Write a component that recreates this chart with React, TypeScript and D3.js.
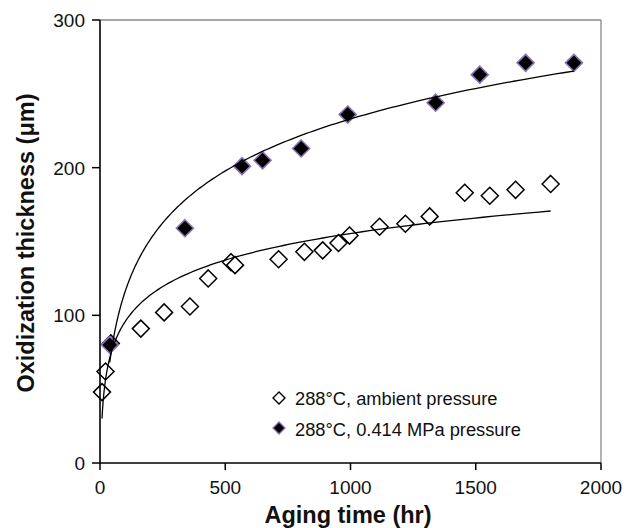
import React from "react";
import * as d3 from "d3";

// Ambient pressure series (open diamonds)
const ambientHours = [8, 22, 43, 163, 256, 359, 432, 523, 539, 713, 816, 889, 952, 996, 1116, 1219, 1316, 1456, 1556, 1659, 1799];
const ambientValues = [48, 62, 81, 91, 102, 106, 125, 136, 134, 138, 143, 144, 149, 154, 160, 162, 167, 183, 181, 185, 189];

// 0.414 MPa pressure series (filled diamonds)
const pressureHours = [39, 339, 567, 649, 803, 989, 1340, 1516, 1699, 1892];
const pressureValues = [80, 159, 201, 205, 213, 236, 244, 263, 271, 271];

const xTicks = [0, 500, 1000, 1500, 2000];
const yTicks = [0, 100, 200, 300];
const legendLabels = ["288°C, ambient pressure", "288°C, 0.414 MPa pressure"];

const W = 624, H = 528;
const M = { left: 100, right: 601, top: 20, bottom: 463 };
const FONT = "'Liberation Sans', Arial, Helvetica, sans-serif";

function logFit(xs: number[], ys: number[]) {
  const lx = xs.map(Math.log);
  const mx = d3.mean(lx)!, my = d3.mean(ys)!;
  let sxx = 0, sxy = 0;
  lx.forEach((v, i) => { sxx += (v - mx) ** 2; sxy += (v - mx) * (ys[i] - my); });
  const a = sxy / sxx, b = my - a * mx;
  return (x: number) => a * Math.log(x) + b;
}

function diamond(cx: number, cy: number, r: number) {
  return `M${cx},${cy - r}L${cx + r},${cy}L${cx},${cy + r}L${cx - r},${cy}Z`;
}

export default function App() {
  const x = d3.scaleLinear().domain([0, 2000]).range([M.left, M.right]);
  const y = d3.scaleLinear().domain([0, 300]).range([M.bottom, M.top]);

  const trend = (xs: number[], ys: number[]) => {
    const f = logFit(xs, ys);
    const lo = d3.min(xs)!, hi = d3.max(xs)!;
    const pts = d3.range(0, 201).map((i) => lo * Math.pow(hi / lo, i / 200));
    return d3.line<number>().x((t) => x(t)).y((t) => y(f(t)))(pts)!;
  };

  const ambient = ambientHours.map((h, i) => [h, ambientValues[i]]);
  const pressure = pressureHours.map((h, i) => [h, pressureValues[i]]);

  return (
    <svg width={W} height={H} style={{ position: "absolute", left: 0, top: 0, background: "#fff" }} fontFamily={FONT}>
      <rect x={0} y={0} width={W} height={H} fill="#fff" />
      {/* frame */}
      <line x1={M.left} x2={M.right} y1={M.top} y2={M.top} stroke="#888" strokeWidth={1.3} />
      <line x1={M.right} x2={M.right} y1={M.top} y2={M.bottom} stroke="#888" strokeWidth={1.3} />

      {/* markers */}
      {ambient.map(([h, v], i) => (
        <path key={"a" + i} d={diamond(x(h), y(v), 8.5)} fill="#fff" stroke="#000" strokeWidth={1.5} />
      ))}
      {pressure.map(([h, v], i) => (
        <path key={"p" + i} d={diamond(x(h), y(v), 8.5)} fill="#000" stroke="#8b72b5" strokeWidth={1.6} />
      ))}

      {/* trend lines */}
      <path d={trend(ambientHours, ambientValues)} fill="none" stroke="#000" strokeWidth={1.3} />
      <path d={trend(pressureHours, pressureValues)} fill="none" stroke="#000" strokeWidth={1.3} />

      {/* axes */}
      <line x1={M.left} x2={M.left} y1={M.top} y2={M.bottom} stroke="#000" strokeWidth={1.6} />
      <line x1={M.left} x2={M.right} y1={M.bottom} y2={M.bottom} stroke="#000" strokeWidth={1.6} />
      {yTicks.map((t) => (
        <g key={"y" + t}>
          <line x1={M.left - 8} x2={M.left} y1={y(t)} y2={y(t)} stroke="#000" strokeWidth={1.5} />
          <text x={85} y={y(t)} dy="0.36em" textAnchor="end" fontSize={19} fill="#111">{t}</text>
        </g>
      ))}
      {xTicks.map((t) => (
        <g key={"x" + t}>
          <line x1={x(t)} x2={x(t)} y1={M.bottom} y2={M.bottom + 7} stroke="#000" strokeWidth={1.5} />
          <text x={x(t)} y={494} textAnchor="middle" fontSize={19} fill="#111">{t}</text>
        </g>
      ))}

      {/* axis titles */}
      <text x={348} y={523} textAnchor="middle" fontSize={23.5} fontWeight="bold" fill="#111">Aging time (hr)</text>
      <text transform="translate(34,243) rotate(-90)" textAnchor="middle" fontSize={23.5} fontWeight="bold" fill="#111">Oxidization thickness (μm)</text>

      {/* legend */}
      <path d={diamond(279, 398, 6)} fill="#fff" stroke="#000" strokeWidth={1.4} />
      <text x={295} y={398} dy="0.36em" fontSize={18.3} fill="#111">{legendLabels[0]}</text>
      <path d={diamond(279, 428, 6)} fill="#000" stroke="#8b72b5" strokeWidth={1.4} />
      <text x={295} y={429} dy="0.36em" fontSize={18.3} fill="#111">{legendLabels[1]}</text>
    </svg>
  );
}
